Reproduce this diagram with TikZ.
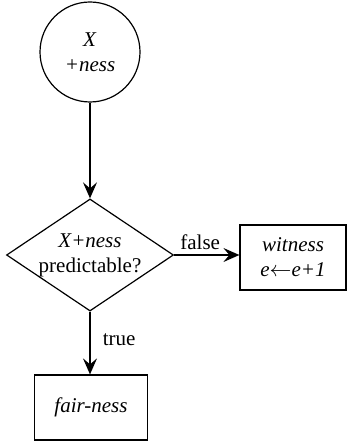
\documentclass[tikz,border=0pt]{standalone}
\usepackage{fontspec}
\setmainfont{Liberation Serif}
\usetikzlibrary{shapes.geometric,arrows.meta}

\tikzset{
    flowline/.style={line width=0.8pt, -{Stealth[length=8pt, width=7pt, inset=3pt]}},
    startnode/.style={circle, draw, line width=0.6pt, minimum size=50pt, inner sep=0pt, align=center},
    testnode/.style={diamond, draw, line width=0.6pt, aspect=1.49, minimum width=82pt, minimum height=55pt, inner sep=0pt, align=center},
    boxnode/.style={rectangle, draw, line width=0.6pt, minimum width=53pt, minimum height=32.5pt, align=center}
}

\begin{document}
\begin{tikzpicture}[x=0.5pt, y=-0.5pt, font=\fontsize{10.5}{12.5}\selectfont]
    \useasboundingbox (0,0) rectangle (347,443);

    \coordinate (S) at (90,52);
    \coordinate (D) at (90,255);
    \coordinate (W) at (293,257.5);
    \coordinate (F) at (91,407.5);

    \node[startnode] (start) at (S) {\textit{X}\\\textit{+ness}};
    \node[testnode] (test) at (D) {\textit{X+ness}\\predictable?};
    \node[boxnode] (witness) at (W) {\textit{witness}\\\textit{e}$\leftarrow$\textit{e+1}};
    \node[boxnode, minimum width=56.5pt] (fair) at (F) {\textit{fair-ness}};

    \draw[flowline] (start) -- (test);
    \draw[flowline] (test.east) -- node[above, pos=0.4, inner sep=2pt] {false} (test.east -| witness.west);
    \draw[flowline] (test.south) -- node[right, pos=0.45, inner sep=6pt] {true} (fair.north -| test.south);
\end{tikzpicture}
\end{document}
